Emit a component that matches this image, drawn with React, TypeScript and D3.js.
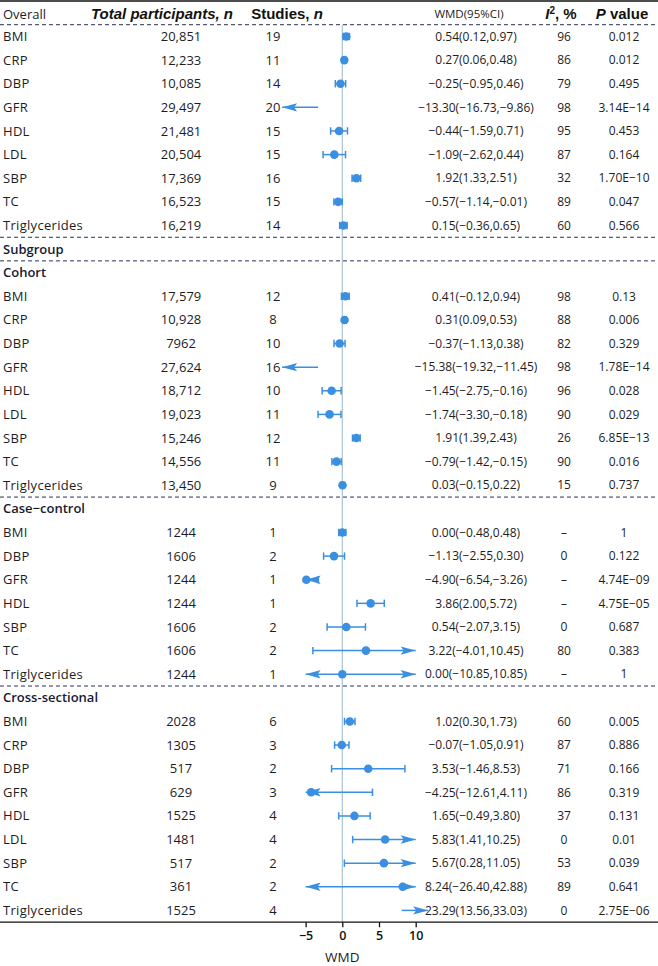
import React, { useEffect, useRef } from 'react';
import * as d3 from 'd3';

// ---- data ----
const outcomesAll = ['BMI', 'CRP', 'DBP', 'GFR', 'HDL', 'LDL', 'SBP', 'TC', 'Triglycerides'];
const outcomesCaseControl = ['BMI', 'DBP', 'GFR', 'HDL', 'SBP', 'TC', 'Triglycerides'];

const overallN = ['20,851', '12,233', '10,085', '29,497', '21,481', '20,504', '17,369', '16,523', '16,219'];
const overallStudies = [19, 11, 14, 20, 15, 15, 16, 15, 14];
const overallWmd = [0.54, 0.27, -0.25, -13.3, -0.44, -1.09, 1.92, -0.57, 0.15];
const overallLo = [0.12, 0.06, -0.95, -16.73, -1.59, -2.62, 1.33, -1.14, -0.36];
const overallHi = [0.97, 0.48, 0.46, -9.86, 0.71, 0.44, 2.51, -0.01, 0.65];
const overallI2 = ['96', '86', '79', '98', '95', '87', '32', '89', '60'];
const overallP = ['0.012', '0.012', '0.495', '3.14E−14', '0.453', '0.164', '1.70E−10', '0.047', '0.566'];

const cohortN = ['17,579', '10,928', '7962', '27,624', '18,712', '19,023', '15,246', '14,556', '13,450'];
const cohortStudies = [12, 8, 10, 16, 10, 11, 12, 11, 9];
const cohortWmd = [0.41, 0.31, -0.37, -15.38, -1.45, -1.74, 1.91, -0.79, 0.03];
const cohortLo = [-0.12, 0.09, -1.13, -19.32, -2.75, -3.3, 1.39, -1.42, -0.15];
const cohortHi = [0.94, 0.53, 0.38, -11.45, -0.16, -0.18, 2.43, -0.15, 0.22];
const cohortI2 = ['98', '88', '82', '98', '96', '90', '26', '90', '15'];
const cohortP = ['0.13', '0.006', '0.329', '1.78E−14', '0.028', '0.029', '6.85E−13', '0.016', '0.737'];

const ccN = ['1244', '1606', '1244', '1244', '1606', '1606', '1244'];
const ccStudies = [1, 2, 1, 1, 2, 2, 1];
const ccWmd = [0.0, -1.13, -4.9, 3.86, 0.54, 3.22, 0.0];
const ccLo = [-0.48, -2.55, -6.54, 2.0, -2.07, -4.01, -10.85];
const ccHi = [0.48, 0.3, -3.26, 5.72, 3.15, 10.45, 10.85];
const ccI2 = ['–', '0', '–', '–', '0', '80', '–'];
const ccP = ['1', '0.122', '4.74E−09', '4.75E−05', '0.687', '0.383', '1'];

const csN = ['2028', '1305', '517', '629', '1525', '1481', '517', '361', '1525'];
const csStudies = [6, 3, 2, 3, 4, 4, 2, 2, 4];
const csWmd = [1.02, -0.07, 3.53, -4.25, 1.65, 5.83, 5.67, 8.24, 23.29];
const csLo = [0.3, -1.05, -1.46, -12.61, -0.49, 1.41, 0.28, -26.4, 13.56];
const csHi = [1.73, 0.91, 8.53, 4.11, 3.8, 10.25, 11.05, 42.88, 33.03];
const csI2 = ['60', '87', '71', '86', '37', '0', '53', '89', '0'];
const csP = ['0.005', '0.886', '0.166', '0.319', '0.131', '0.01', '0.039', '0.641', '2.75E−06'];

const xTicks = [-5, 0, 5, 10];
const xDomain: [number, number] = [-5, 10];
// where the figure draws intervals that fall entirely off the scale
const offLeft = [-3.3, -8.2];
const offRight = [8.1, 11.7];

type Row = {
  label: string; n: string; studies: number; wmd: number; lo: number; hi: number; i2: string; p: string;
};

const makeRows = (labels: string[], n: string[], st: number[], w: number[], lo: number[], hi: number[], i2: string[], p: string[]): Row[] =>
  labels.map((label, i) => ({ label, n: n[i], studies: st[i], wmd: w[i], lo: lo[i], hi: hi[i], i2: i2[i], p: p[i] }));

const sections = [
  { title: null as string | null, rows: makeRows(outcomesAll, overallN, overallStudies, overallWmd, overallLo, overallHi, overallI2, overallP) },
  { title: 'Subgroup', rows: [] as Row[] },
  { title: 'Cohort', rows: makeRows(outcomesAll, cohortN, cohortStudies, cohortWmd, cohortLo, cohortHi, cohortI2, cohortP) },
  { title: 'Case−control', rows: makeRows(outcomesCaseControl, ccN, ccStudies, ccWmd, ccLo, ccHi, ccI2, ccP) },
  { title: 'Cross-sectional', rows: makeRows(outcomesAll, csN, csStudies, csWmd, csLo, csHi, csI2, csP) },
];

const fmt = (v: number) => v.toFixed(2).replace('-', '−');

const W = 658;
const H = 966;
const BODY = '"Open Sans", "Noto Sans", sans-serif';
const HEAD = '"Liberation Sans", Arial, sans-serif';
const BLUE = '#3a8fe0';
const NAVY = '#2b3158';

const col = { label: 3, n: 181, studies: 273, ci: 476, i2: 564, p: 624 };

const arrowPath = (tip: number, y: number, dir: number) => {
  const L = 15, B = 12, h = 4.2;
  return `M${tip},${y}L${tip - dir * L},${y - h}L${tip - dir * B},${y}L${tip - dir * L},${y + h}Z`;
};

const App: React.FC = () => {
  const axisRef = useRef<SVGGElement>(null);

  // slot layout: every title and data row takes one slot
  type Item = { kind: 'title'; text: string; slot: number } | { kind: 'row'; row: Row; slot: number };
  const items: Item[] = [];
  const dashSlots: number[] = [-0.5];
  let slot = 0;
  sections.forEach((s, si) => {
    if (si > 0) dashSlots.push(slot - 0.5);
    if (s.title) { items.push({ kind: 'title', text: s.title, slot }); slot++; }
    s.rows.forEach(r => { items.push({ kind: 'row', row: r, slot }); slot++; });
  });
  const lastSlot = slot - 1;

  const y = d3.scaleLinear().domain([0, lastSlot]).range([36.5, 910.4]);
  const x = d3.scaleLinear().domain(xDomain).range([305.6, 415.7]);
  const axisY = y(lastSlot + 0.5);

  useEffect(() => {
    const g = d3.select(axisRef.current);
    g.selectAll('*').remove();
    g.call(d3.axisBottom(x).tickValues(xTicks).tickSize(5).tickPadding(4).tickFormat(d3.format('d')));
    g.select('.domain').remove();
    g.selectAll('line').attr('stroke', '#111').attr('stroke-width', 1.3);
    g.selectAll('text')
      .attr('fill', '#111')
      .style('font-family', BODY)
      .style('font-size', '12.5px')
      .style('font-weight', 600);
  }, []);

  const mark = (r: Row, cy: number) => {
    const [d0, d1] = xDomain;
    const els: React.ReactNode[] = [];
    if (r.hi < d0 || r.lo > d1) {
      const seg = r.hi < d0 ? offLeft : offRight;
      const dir = r.hi < d0 ? -1 : 1;
      els.push(<line key="l" x1={x(seg[0])} x2={x(seg[1])} y1={cy} y2={cy} stroke={BLUE} strokeWidth={1.5} />);
      els.push(<path key="a" d={arrowPath(x(seg[1]), cy, dir)} fill={BLUE} />);
      return <g>{els}</g>;
    }
    const lo = Math.max(r.lo, d0);
    const hi = Math.min(r.hi, d1);
    els.push(<line key="l" x1={x(lo)} x2={x(hi)} y1={cy} y2={cy} stroke={BLUE} strokeWidth={1.5} />);
    if (r.lo < d0) els.push(<path key="al" d={arrowPath(x(d0), cy, -1)} fill={BLUE} />);
    else els.push(<line key="cl" x1={x(lo)} x2={x(lo)} y1={cy - 3.7} y2={cy + 3.7} stroke={BLUE} strokeWidth={1.5} />);
    if (r.hi > d1) els.push(<path key="ar" d={arrowPath(x(d1), cy, 1)} fill={BLUE} />);
    else els.push(<line key="cr" x1={x(hi)} x2={x(hi)} y1={cy - 3.7} y2={cy + 3.7} stroke={BLUE} strokeWidth={1.5} />);
    if (r.wmd >= d0 && r.wmd <= d1) els.push(<circle key="c" cx={x(r.wmd)} cy={cy} r={4.3} fill={BLUE} />);
    return <g>{els}</g>;
  };

  const txt = { fontFamily: BODY, fontSize: 12, fill: '#1d1d1f' } as const;
  const left = { ...txt, fontSize: 13 } as const;
  const head = { fontFamily: HEAD, fontSize: 15, fontWeight: 700, fill: '#111' } as const;

  return (
    <svg width={W} height={H} style={{ position: 'absolute', left: 0, top: 0, background: '#fff' }}>
      {/* top rule */}
      <line x1={0} x2={W} y1={1} y2={1} stroke="#111" strokeWidth={1.5} />

      {/* header */}
      <g>
        <text x={col.label} y={14} dy="0.35em" style={{ ...txt, fontSize: 13 }}>Overall</text>
        <text x={162} y={14} dy="0.35em" textAnchor="middle" style={{ ...head, fontStyle: 'italic' }}>Total participants, n</text>
        <text x={287} y={14} dy="0.35em" textAnchor="middle" style={head}>
          Studies, <tspan fontStyle="italic">n</tspan>
        </text>
        <text x={469} y={14} dy="0.35em" textAnchor="middle" style={{ ...txt, fontSize: 11.5 }}>WMD(95%CI)</text>
        <text x={561} y={14} dy="0.35em" textAnchor="middle" style={head}>
          <tspan fontStyle="italic">I</tspan><tspan dy="-5" fontSize={10}>2</tspan><tspan dy="5">, %</tspan>
        </text>
        <text x={622} y={14} dy="0.35em" textAnchor="middle" style={head}>
          <tspan fontStyle="italic">P</tspan> value
        </text>
      </g>

      {/* dashed separators */}
      {dashSlots.map((s, i) => (
        <line key={i} x1={0} x2={W} y1={y(s)} y2={y(s)} stroke={NAVY} strokeWidth={1} strokeDasharray="4,3" />
      ))}

      {/* reference line at zero */}
      <line x1={x(0)} x2={x(0)} y1={y(-0.5)} y2={axisY} stroke="#a9c2d3" strokeWidth={1.2} />

      {/* rows */}
      {items.map((it, i) => {
        const cy = y(it.slot);
        if (it.kind === 'title') {
          return (
            <text key={i} x={col.label} y={cy} dy="0.35em" style={{ ...txt, fontSize: 13, fontWeight: 600, fill: '#161a33' }}>{it.text}</text>
          );
        }
        const r = it.row;
        return (
          <g key={i}>
            <text x={col.label} y={cy} dy="0.35em" style={{ ...left, letterSpacing: 0.3 }}>{r.label}</text>
            <text x={col.n} y={cy} dy="0.35em" textAnchor="middle" style={left}>{r.n}</text>
            <text x={col.studies} y={cy} dy="0.35em" textAnchor="middle" style={left}>{r.studies}</text>
            {mark(r, cy)}
            <text x={col.ci} y={cy} dy="0.35em" textAnchor="middle" style={txt}>{`${fmt(r.wmd)}(${fmt(r.lo)},${fmt(r.hi)})`}</text>
            <text x={col.i2} y={cy} dy="0.35em" textAnchor="middle" style={txt}>{r.i2}</text>
            <text x={col.p} y={cy} dy="0.35em" textAnchor="middle" style={txt}>{r.p}</text>
          </g>
        );
      })}

      {/* bottom rule + axis */}
      <line x1={0} x2={W} y1={axisY} y2={axisY} stroke="#111" strokeWidth={1.3} />
      <g ref={axisRef} transform={`translate(0,${axisY})`} />
      <text x={x(0)} y={957} dy="0.35em" textAnchor="middle" style={{ ...txt, fontSize: 13.5, fontWeight: 500 }}>WMD</text>
    </svg>
  );
};

export default App;
